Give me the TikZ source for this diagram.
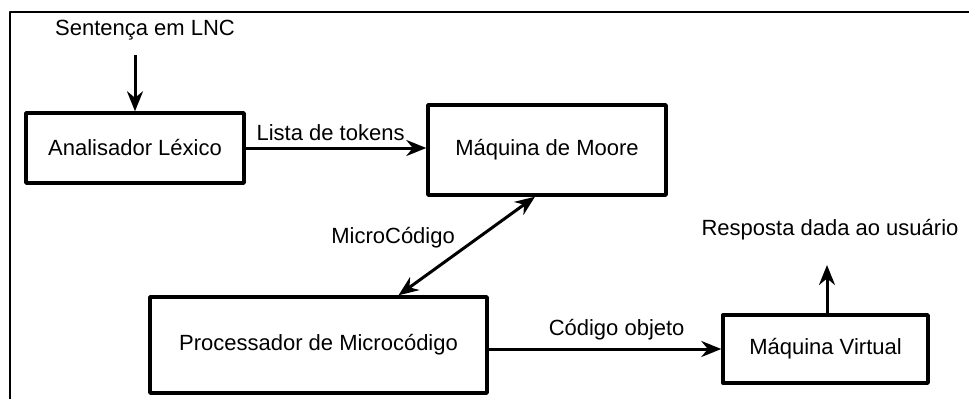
\documentclass[tikz,border=0pt]{standalone}
\usepackage{fontspec}
\setmainfont{Liberation Sans}
\usetikzlibrary{arrows.meta}
\begin{document}
\begin{tikzpicture}[x=1pt,y=-1pt,>={Stealth[length=20pt,width=16pt]},line join=round,font=\fontsize{22}{26}\selectfont,
	bloco/.style={draw,line width=3.4pt,inner sep=0pt},
	seta/.style={->,line width=3pt}]
	\useasboundingbox (0,0) rectangle (969,399);
	\draw[line width=1.2pt] (10,399) -- (10,12) -- (969,12); % moldura
	\node[bloco,minimum width=218pt,minimum height=70pt] (lexico) at (135,148) {Analisador Léxico};
	\node[bloco,minimum width=238pt,minimum height=90pt] (moore) at (547,150) {Máquina de Moore};
	\node[bloco,minimum width=337pt,minimum height=96pt] (proc) at (318.5,345) {Processador de Microcódigo};
	\node[bloco,minimum width=205pt,minimum height=68pt] (mv) at (825.5,349) {Máquina Virtual};
	\node (sentenca) at (145,30) {Sentença em LNC};
	\node (resposta) at (830,230) {Resposta dada ao usuário};
	\coordinate (entrada) at (135,55);
	\coordinate (saida) at (827,265);
	\draw[seta] (entrada) -- (lexico.north);
	\draw[seta] (lexico.east) -- (lexico.east -| moore.west) node[pos=.47,above=2pt] (tokens) {Lista de tokens};
	\draw[seta,<->] ([xshift=-12pt]moore.south) -- ([xshift=80pt]proc.north) node[pos=.42,left=18pt] (micro) {MicroCódigo};
	\draw[seta] (mv.west -| proc.east) -- (mv.west) node[pos=.55,above=4pt] (objeto) {Código objeto};
	\draw[seta] (mv.north -| saida) -- (saida);
\end{tikzpicture}
\end{document}
